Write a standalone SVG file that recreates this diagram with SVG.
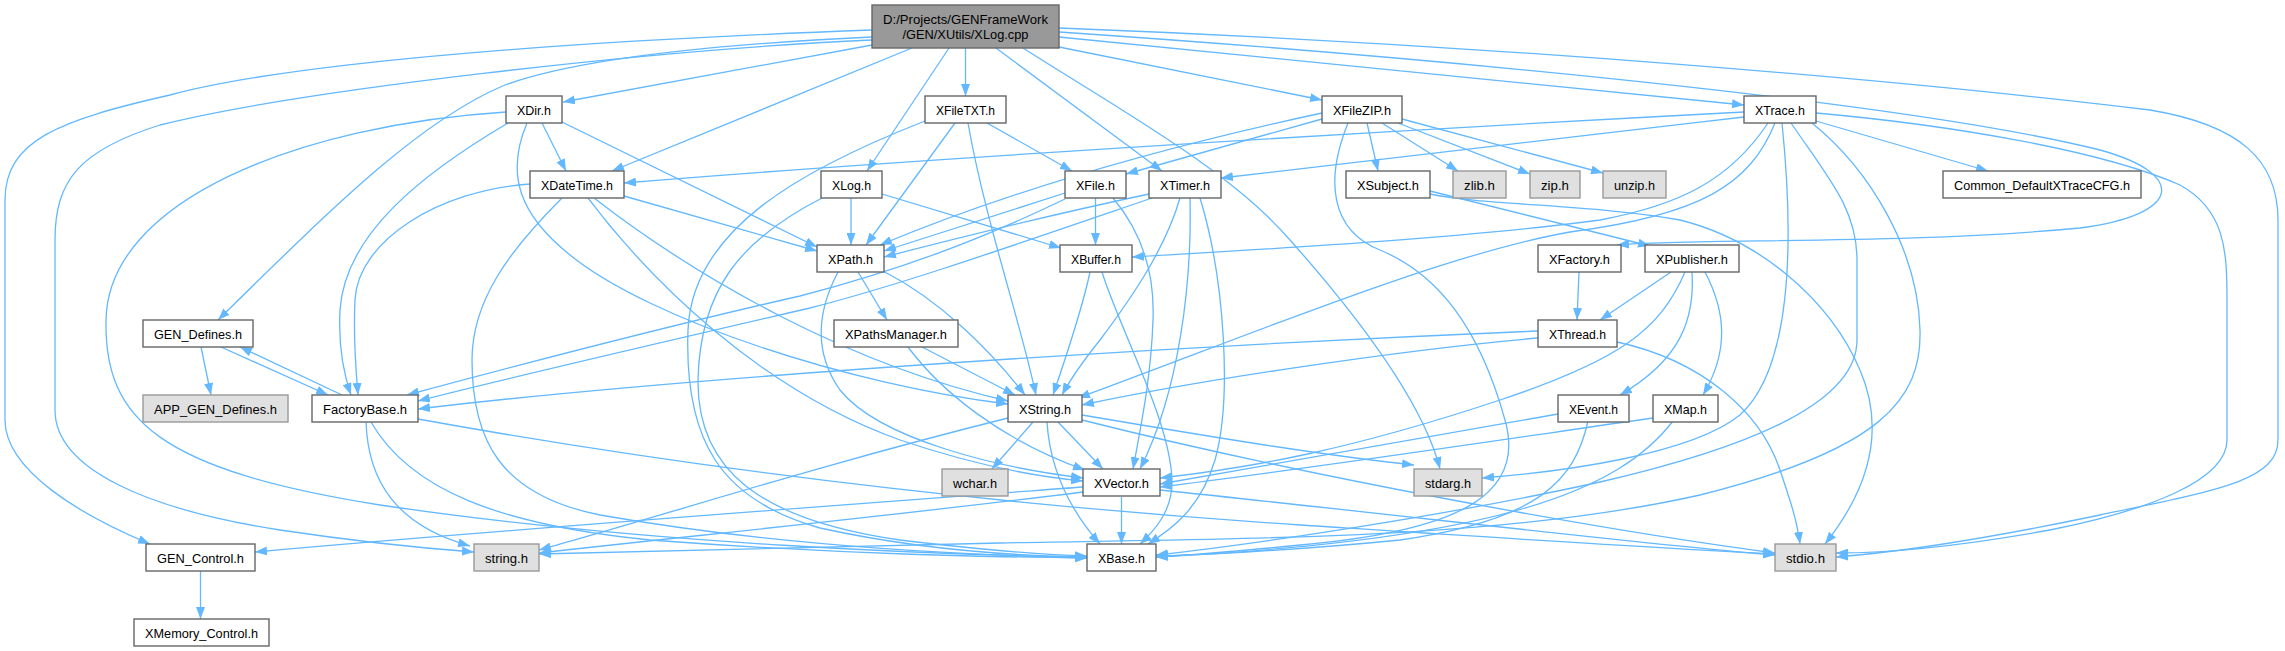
<svg xmlns="http://www.w3.org/2000/svg" width="2285" height="651" viewBox="0 0 2285 651">
<style>
.e{fill:none;stroke:#63b8ff;stroke-width:1.3;marker-end:url(#a)}
.n rect{fill:#ffffff;stroke:#666666;stroke-width:1.4}
.g rect{fill:#e0e0e0;stroke:#999999;stroke-width:1.4}
.r rect{fill:#999999;stroke:#666666;stroke-width:1.4}
text{font-family:"Liberation Sans",Arial,sans-serif;font-size:13.5px;fill:#000;text-anchor:middle}
</style>
<defs>
<marker id="a" markerUnits="userSpaceOnUse" markerWidth="12" markerHeight="9" viewBox="0 0 12 9" refX="12" refY="4.5" orient="auto">
<path d="M0,0 L12,4.5 L0,9 z" fill="#63b8ff"/>
</marker>
</defs>
<rect width="2285" height="651" fill="#ffffff"/>
<g id="edges">
<path class="e" d="M872,45 L563,102"/>
<path class="e" d="M912,48 L612,171"/>
<path class="e" d="M949,48 L867,171"/>
<path class="e" d="M965.5,48 L965.5,96"/>
<path class="e" d="M996,48 L1162,171"/>
<path class="e" d="M1023,48 C1120,110 1230,170 1290,240 C1370,330 1425,410 1440,469"/>
<path class="e" d="M1059,47 L1322,100"/>
<path class="e" d="M1059,37 L1744,105"/>
<path class="e" d="M1059,32 C1400,55 1900,100 2100,150 C2190,175 2180,215 2080,228 C1900,245 1700,238 1617,245"/>
<path class="e" d="M1059,28 C1500,45 1900,80 2150,110 C2240,125 2278,160 2278,220 L2278,440 C2278,480 2220,490 2100,515 C1990,538 1900,552 1836,557"/>
<path class="e" d="M872,30 C600,40 300,60 170,95 C60,120 5,140 5,200 L5,420 C5,470 80,515 150,544"/>
<path class="e" d="M872,40 C650,50 300,90 160,125 C80,150 55,180 55,240 L55,410 C55,470 150,510 280,530 C360,542 420,548 474,552"/>
<path class="e" d="M872,37 C720,44 580,58 505,85 C420,120 330,210 218,320"/>
<path class="e" d="M542,123 L566,171"/>
<path class="e" d="M562,122 L817,247"/>
<path class="e" d="M508,123 C420,175 345,235 340,310 C338,350 344,375 351,395"/>
<path class="e" d="M527,123 C505,175 520,215 570,255 C650,320 850,385 1008,404"/>
<path class="e" d="M506,112 C300,125 108,200 106,320 C104,420 160,470 380,505 C650,545 950,555 1087,557"/>
<path class="e" d="M624,196 L817,251"/>
<path class="e" d="M530,184 C440,190 358,240 355,300 C353,340 356,370 358,395"/>
<path class="e" d="M562,198 C510,250 472,300 472,360 C472,440 500,495 600,515 C800,550 1000,556 1087,558"/>
<path class="e" d="M594,198 C700,280 850,365 1008,401"/>
<path class="e" d="M588,198 C650,280 760,390 900,440 C980,467 1040,477 1083,481"/>
<path class="e" d="M851,198 L851,245"/>
<path class="e" d="M882,194 L1061,248"/>
<path class="e" d="M822,198 C740,240 700,290 698,380 C697,470 760,520 900,540 C1000,552 1050,555 1087,556"/>
<path class="e" d="M925,121 C800,170 692,230 688,330 C684,440 720,500 820,528 C920,550 1020,556 1087,557"/>
<path class="e" d="M955,123 L866,245"/>
<path class="e" d="M968,123 C985,220 1020,320 1036,395"/>
<path class="e" d="M987,123 L1072,171"/>
<path class="e" d="M1065,193 L884,251"/>
<path class="e" d="M1095.5,198 L1095.5,245"/>
<path class="e" d="M1113,198 C1140,230 1155,270 1153,320 C1151,380 1140,430 1133,469"/>
<path class="e" d="M1065,199 C980,240 900,270 800,296 C650,330 500,370 407,395"/>
<path class="e" d="M1149,194 C1050,215 950,240 884,257"/>
<path class="e" d="M1152,198 C1000,250 900,285 810,308 C650,345 500,380 418,401"/>
<path class="e" d="M1180,198 C1165,250 1130,300 1100,340 C1080,365 1070,380 1062,395"/>
<path class="e" d="M1190,198 C1192,280 1180,390 1140,469"/>
<path class="e" d="M1200,198 C1225,280 1232,400 1215,460 C1200,510 1170,530 1148,544"/>
<path class="e" d="M858,272 L887,320"/>
<path class="e" d="M883,271 C940,300 990,350 1025,395"/>
<path class="e" d="M838,272 C818,310 812,350 840,390 C880,440 1000,468 1083,478"/>
<path class="e" d="M1090,272 C1082,310 1065,360 1053,395"/>
<path class="e" d="M1102,272 C1120,330 1170,420 1172,480 C1173,510 1155,530 1140,544"/>
<path class="e" d="M1322,113 C1150,150 1000,195 880,245"/>
<path class="e" d="M1322,119 L1126,174"/>
<path class="e" d="M1348,123 C1325,180 1330,230 1380,250 C1440,275 1480,330 1505,420 C1525,490 1470,530 1300,545 C1230,552 1190,555 1156,557"/>
<path class="e" d="M1367,123 L1378,171"/>
<path class="e" d="M1382,123 L1458,171"/>
<path class="e" d="M1398,123 L1530,174"/>
<path class="e" d="M1402,119 L1603,173"/>
<path class="e" d="M1744,112 C1400,130 900,160 624,183"/>
<path class="e" d="M1744,117 C1550,140 1350,162 1221,178"/>
<path class="e" d="M1768,123 C1730,180 1680,205 1600,220 C1450,240 1250,250 1132,257"/>
<path class="e" d="M1775,123 C1750,185 1700,215 1570,232 C1440,255 1250,335 1078,398"/>
<path class="e" d="M1782,123 C1795,250 1790,370 1740,415 C1690,455 1560,472 1482,478"/>
<path class="e" d="M1791,123 C1830,180 1857,210 1857,260 L1857,340 C1857,400 1760,445 1600,482 C1450,515 1250,545 1156,555"/>
<path class="e" d="M1812,123 C1870,170 1918,250 1920,330 C1922,400 1880,450 1700,495 C1500,540 1250,538 1000,543 C800,548 620,552 539,554"/>
<path class="e" d="M1816,121 L1988,171"/>
<path class="e" d="M1816,113 C1950,125 2100,150 2180,185 C2225,210 2227,250 2227,300 L2227,440 C2227,480 2150,510 2050,530 C1950,548 1880,553 1836,553"/>
<path class="e" d="M1430,191 L1650,246"/>
<path class="e" d="M1430,194 C1480,205 1600,205 1680,220 C1760,240 1830,300 1860,370 C1890,440 1860,500 1825,544"/>
<path class="e" d="M1579,272 L1577,320"/>
<path class="e" d="M1671,272 L1600,320"/>
<path class="e" d="M1685,272 C1660,330 1620,360 1500,400 C1350,450 1250,468 1160,478"/>
<path class="e" d="M1692,272 C1695,320 1680,360 1620,395"/>
<path class="e" d="M1705,272 C1725,310 1730,350 1703,395"/>
<path class="e" d="M1538,331 C1200,345 700,375 418,409"/>
<path class="e" d="M1538,338 C1400,350 1200,380 1082,405"/>
<path class="e" d="M1617,342 C1700,360 1760,410 1780,470 C1790,500 1797,520 1800,544"/>
<path class="e" d="M1558,414 L1160,484"/>
<path class="e" d="M1588,421 C1575,480 1540,520 1400,540 C1300,550 1200,555 1156,556"/>
<path class="e" d="M1653,418 C1500,440 1300,470 1160,487"/>
<path class="e" d="M1673,421 C1620,490 1500,540 1156,557"/>
<path class="e" d="M1033,422 L992,469"/>
<path class="e" d="M1058,422 L1103,469"/>
<path class="e" d="M1047,422 C1050,470 1070,510 1100,544"/>
<path class="e" d="M1008,418 C800,470 650,520 539,550"/>
<path class="e" d="M1082,415 C1200,435 1320,455 1414,465"/>
<path class="e" d="M1082,420 C1300,475 1600,530 1775,553"/>
<path class="e" d="M1121.5,497 L1121.5,544"/>
<path class="e" d="M1083,492 C900,515 700,535 539,553"/>
<path class="e" d="M1083,487 C800,508 500,530 255,552"/>
<path class="e" d="M1160,490 C1400,515 1650,545 1775,555"/>
<path class="e" d="M342,395 L240,347"/>
<path class="e" d="M366,422 C368,480 395,525 470,546"/>
<path class="e" d="M371,422 C410,490 500,525 650,540 C850,555 1000,557 1087,558"/>
<path class="e" d="M418,419 C700,470 1000,505 1300,525 C1500,538 1650,548 1775,554"/>
<path class="e" d="M201,347 L211,395"/>
<path class="e" d="M221,347 L328,395"/>
<path class="e" d="M200.5,571 L200.5,619"/>
<path class="e" d="M922,347 L1015,395"/>
<path class="e" d="M908,347 C940,390 1000,440 1085,470"/>
</g>
<g id="root" class="r"><rect x="872" y="5" width="187" height="43"/><text x="965.5" y="23.5" textLength="165" lengthAdjust="spacingAndGlyphs">D:/Projects/GENFrameWork</text><text x="965.5" y="39" textLength="126" lengthAdjust="spacingAndGlyphs">/GEN/XUtils/XLog.cpp</text></g>
<g id="XDir" class="n"><rect x="506" y="96" width="56" height="27"/><text x="534" y="114.5" textLength="34" lengthAdjust="spacingAndGlyphs">XDir.h</text></g>
<g id="XFileTXT" class="n"><rect x="925" y="96" width="81" height="27"/><text x="965.5" y="114.5" textLength="59" lengthAdjust="spacingAndGlyphs">XFileTXT.h</text></g>
<g id="XFileZIP" class="n"><rect x="1322" y="96" width="80" height="27"/><text x="1362" y="114.5" textLength="58" lengthAdjust="spacingAndGlyphs">XFileZIP.h</text></g>
<g id="XTrace" class="n"><rect x="1744" y="96" width="72" height="27"/><text x="1780" y="114.5" textLength="50" lengthAdjust="spacingAndGlyphs">XTrace.h</text></g>
<g id="XDateTime" class="n"><rect x="530" y="171" width="94" height="27"/><text x="577" y="189.5" textLength="72" lengthAdjust="spacingAndGlyphs">XDateTime.h</text></g>
<g id="XLog" class="n"><rect x="821" y="171" width="61" height="27"/><text x="851.5" y="189.5" textLength="39" lengthAdjust="spacingAndGlyphs">XLog.h</text></g>
<g id="XFile" class="n"><rect x="1065" y="171" width="61" height="27"/><text x="1095.5" y="189.5" textLength="39" lengthAdjust="spacingAndGlyphs">XFile.h</text></g>
<g id="XTimer" class="n"><rect x="1149" y="171" width="72" height="27"/><text x="1185" y="189.5" textLength="50" lengthAdjust="spacingAndGlyphs">XTimer.h</text></g>
<g id="XSubject" class="n"><rect x="1346" y="171" width="84" height="27"/><text x="1388" y="189.5" textLength="62" lengthAdjust="spacingAndGlyphs">XSubject.h</text></g>
<g id="zlib" class="g"><rect x="1453" y="171" width="53" height="27"/><text x="1479.5" y="189.5" textLength="31" lengthAdjust="spacingAndGlyphs">zlib.h</text></g>
<g id="zip" class="g"><rect x="1530" y="171" width="50" height="27"/><text x="1555" y="189.5" textLength="28" lengthAdjust="spacingAndGlyphs">zip.h</text></g>
<g id="unzip" class="g"><rect x="1603" y="171" width="63" height="27"/><text x="1634.5" y="189.5" textLength="41" lengthAdjust="spacingAndGlyphs">unzip.h</text></g>
<g id="CommonCFG" class="n"><rect x="1943" y="171" width="198" height="27"/><text x="2042" y="189.5" textLength="176" lengthAdjust="spacingAndGlyphs">Common_DefaultXTraceCFG.h</text></g>
<g id="XPath" class="n"><rect x="817" y="245" width="67" height="27"/><text x="850.5" y="263.5" textLength="45" lengthAdjust="spacingAndGlyphs">XPath.h</text></g>
<g id="XBuffer" class="n"><rect x="1060" y="245" width="72" height="27"/><text x="1096" y="263.5" textLength="50" lengthAdjust="spacingAndGlyphs">XBuffer.h</text></g>
<g id="XFactory" class="n"><rect x="1538" y="245" width="83" height="27"/><text x="1579.5" y="263.5" textLength="61" lengthAdjust="spacingAndGlyphs">XFactory.h</text></g>
<g id="XPublisher" class="n"><rect x="1645" y="245" width="94" height="27"/><text x="1692" y="263.5" textLength="72" lengthAdjust="spacingAndGlyphs">XPublisher.h</text></g>
<g id="GEN_Defines" class="n"><rect x="143" y="320" width="110" height="27"/><text x="198" y="338.5" textLength="88" lengthAdjust="spacingAndGlyphs">GEN_Defines.h</text></g>
<g id="XPathsManager" class="n"><rect x="834" y="320" width="124" height="27"/><text x="896" y="338.5" textLength="102" lengthAdjust="spacingAndGlyphs">XPathsManager.h</text></g>
<g id="XThread" class="n"><rect x="1538" y="320" width="79" height="27"/><text x="1577.5" y="338.5" textLength="57" lengthAdjust="spacingAndGlyphs">XThread.h</text></g>
<g id="APP_GEN_Defines" class="g"><rect x="143" y="395" width="145" height="27"/><text x="215.5" y="413.5" textLength="123" lengthAdjust="spacingAndGlyphs">APP_GEN_Defines.h</text></g>
<g id="FactoryBase" class="n"><rect x="312" y="395" width="106" height="27"/><text x="365" y="413.5" textLength="84" lengthAdjust="spacingAndGlyphs">FactoryBase.h</text></g>
<g id="XString" class="n"><rect x="1008" y="395" width="74" height="27"/><text x="1045" y="413.5" textLength="52" lengthAdjust="spacingAndGlyphs">XString.h</text></g>
<g id="XEvent" class="n"><rect x="1558" y="395" width="71" height="27"/><text x="1593.5" y="413.5" textLength="49" lengthAdjust="spacingAndGlyphs">XEvent.h</text></g>
<g id="XMap" class="n"><rect x="1653" y="395" width="65" height="27"/><text x="1685.5" y="413.5" textLength="43" lengthAdjust="spacingAndGlyphs">XMap.h</text></g>
<g id="wchar" class="g"><rect x="942" y="469" width="66" height="27"/><text x="975" y="487.5" textLength="44" lengthAdjust="spacingAndGlyphs">wchar.h</text></g>
<g id="XVector" class="n"><rect x="1083" y="469" width="77" height="27"/><text x="1121.5" y="487.5" textLength="55" lengthAdjust="spacingAndGlyphs">XVector.h</text></g>
<g id="stdarg" class="g"><rect x="1414" y="469" width="68" height="27"/><text x="1448" y="487.5" textLength="46" lengthAdjust="spacingAndGlyphs">stdarg.h</text></g>
<g id="GEN_Control" class="n"><rect x="146" y="544" width="109" height="27"/><text x="200.5" y="562.5" textLength="87" lengthAdjust="spacingAndGlyphs">GEN_Control.h</text></g>
<g id="string" class="g"><rect x="474" y="544" width="65" height="27"/><text x="506.5" y="562.5" textLength="43" lengthAdjust="spacingAndGlyphs">string.h</text></g>
<g id="XBase" class="n"><rect x="1087" y="544" width="69" height="27"/><text x="1121.5" y="562.5" textLength="47" lengthAdjust="spacingAndGlyphs">XBase.h</text></g>
<g id="stdio" class="g"><rect x="1775" y="544" width="61" height="27"/><text x="1805.5" y="562.5" textLength="39" lengthAdjust="spacingAndGlyphs">stdio.h</text></g>
<g id="XMemory_Control" class="n"><rect x="134" y="619" width="135" height="27"/><text x="201.5" y="637.5" textLength="113" lengthAdjust="spacingAndGlyphs">XMemory_Control.h</text></g>
</svg>
